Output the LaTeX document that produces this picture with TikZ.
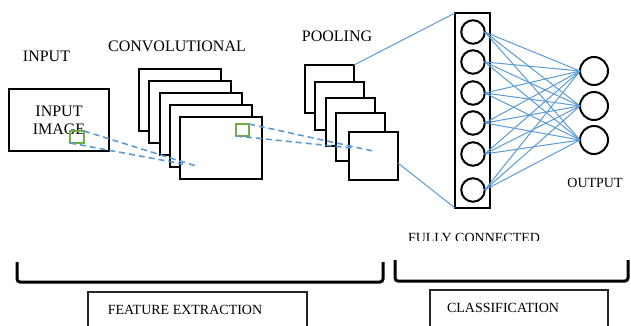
\documentclass[tikz,border=0pt]{standalone}
\usepackage{fontspec}
\setmainfont{Liberation Serif}
\definecolor{wireblue}{RGB}{91,155,213}
\definecolor{kernelgreen}{RGB}{112,173,71}

\begin{document}
\begin{tikzpicture}[x=1pt, y=-1pt,
  biglabel/.style={font=\fontsize{16}{18}\selectfont, inner sep=0pt},
  smalllabel/.style={font=\fontsize{14}{16}\selectfont, inner sep=0pt},
  featmap/.style={draw=black, line width=2pt, fill=white, inner sep=0pt, outer sep=0pt, anchor=north west},
  kernel/.style={draw=kernelgreen, line width=1.6pt, inner sep=0pt, outer sep=0pt, anchor=north west},
  scanline/.style={draw=wireblue, line width=1.6pt, dash pattern=on 6pt off 4pt},
  wire/.style={draw=wireblue, line width=1pt},
  neuron/.style={circle, draw=black, line width=2pt, inner sep=0pt, outer sep=0pt},
  bracket/.style={draw=black, line width=3pt, rounded corners=3pt},
  labelbox/.style={draw=black!85, line width=1.4pt}
]
\clip (0, 0) rectangle (631, 326);

% input
\node[biglabel] (inputlbl) at (46.5, 56) {INPUT};
\node[featmap, minimum width=100pt, minimum height=62pt, align=center,
      font=\fontsize{16}{18}\selectfont] (image) at (9, 89) {INPUT\\IMAGE};
\node[kernel, minimum width=14pt, minimum height=12pt] (kin) at (70, 131) {};

% convolutional maps
\node[biglabel] (convlbl) at (177, 46) {CONVOLUTIONAL};
\foreach \i in {1,...,5}
  \node[featmap, minimum width=82pt, minimum height=62pt] (conv\i) at ({128.75+10.25*\i}, {57+12*\i}) {};
\node[kernel, minimum width=13pt, minimum height=12pt] (kconv) at (236, 124) {};

\coordinate (hitA) at (196, 166);
\coordinate (hitB) at (183, 164);
\draw[scanline] (kin.north east) -- (hitA);
\draw[scanline] (kin.south west) -- (hitB);

% pooling maps
\node[biglabel] (poollbl) at (337, 36) {POOLING};
\foreach \x/\y [count=\i] in {305/65, 315/82, 326/98, 336/113, 349/132}
  \node[featmap, minimum width=49pt, minimum height=48pt] (pool\i) at (\x, \y) {};

\coordinate (hitC) at (373, 151);
\coordinate (hitD) at (352, 148);
\draw[scanline] (kconv.north east) -- (hitC);
\draw[scanline] (kconv.south west) -- (hitD);

% fully connected
\node[featmap, minimum width=35pt, minimum height=195pt] (fc) at (455, 13) {};
\foreach \y [count=\i] in {32, 62, 93, 123, 154, 190}
  \node[neuron, minimum size=23.5pt] (h\i) at (473, \y) {};
\draw[wire] (pool1.north east) -- (fc.north west);
\draw[wire] ([yshift=-7pt]pool5.east) -- (fc.south west);
\begin{scope}
  \clip (400, 220) rectangle (560, 240.5);
  \node[smalllabel] (fclbl) at (474, 238) {FULLY CONNECTED};
\end{scope}

% output
\foreach \y [count=\j] in {71, 106, 140}
  \node[neuron, minimum size=28pt] (o\j) at (594, \y) {};
\foreach \i in {1,...,6}
  \foreach \j in {1,2,3}
    \draw[wire] (h\i.east) -- (o\j.west);
\node[smalllabel] (outlbl) at (595, 183) {OUTPUT};

% stages
\draw[bracket] (17, 262) -- (17, 282) -- (383, 282) -- (383, 262);
\draw[bracket] (395, 260) -- (395, 281) -- (628, 281) -- (628, 260);
\draw[labelbox] (88, 340) -- (88, 292) -- (307, 292) -- (307, 340);
\draw[labelbox] (430, 340) -- (430, 290) -- (608, 290) -- (608, 340);
\node[smalllabel] (featlbl) at (185, 310) {FEATURE EXTRACTION};
\node[smalllabel] (classlbl) at (503, 308) {CLASSIFICATION};
\end{tikzpicture}
\end{document}
